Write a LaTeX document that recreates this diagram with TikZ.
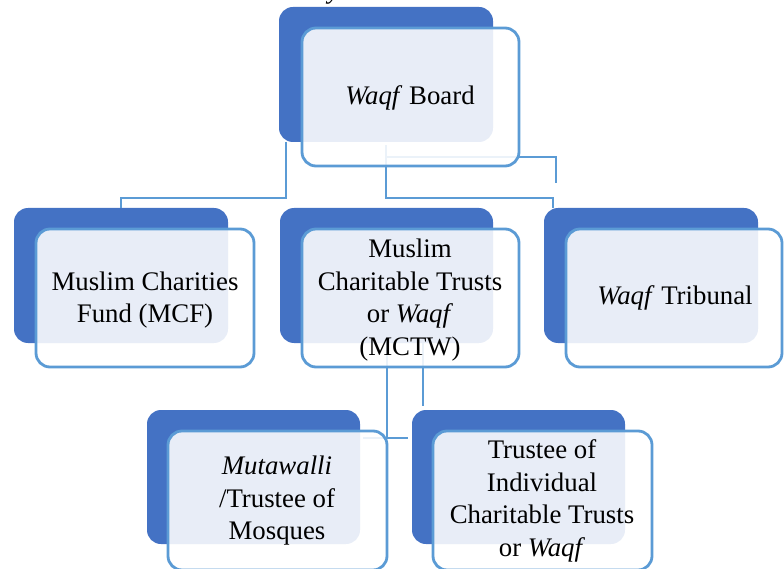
\documentclass[tikz,border=0pt]{standalone}
\usepackage{fontspec}
\setmainfont{Liberation Serif}
\definecolor{darkblue}{HTML}{4472C4}
\definecolor{lineblue}{HTML}{5B9BD5}
\begin{document}
\begin{tikzpicture}[x=1pt,y=-1pt,
  backbox/.style={fill=darkblue,rounded corners=14pt},
  frontbox/.style={draw=lineblue,line width=2.8pt,fill=white,fill opacity=0.88,rounded corners=14pt},
  conn/.style={draw=lineblue,line width=2.6pt},
  lbl/.style={align=center,inner sep=0pt,text=black,font=\fontsize{26.8}{32.5}\selectfont}]
\useasboundingbox (0,0) rectangle (784,569);
% cut-off text at top
\begin{scope}
\clip (0,0) rectangle (784,569);
\node[lbl,anchor=base] (toptxt) at (334,-1) {\itshape y};
\end{scope}
% back boxes
\fill[backbox] (279,7) rectangle (493,142);
\fill[backbox] (14,208) rectangle (228,343);
\fill[backbox] (280,208) rectangle (493,343);
\fill[backbox] (544,208) rectangle (758,343);
\fill[backbox] (147,410) rectangle (360,544);
\fill[backbox] (412,410) rectangle (625,544);
% connector anchor points
\coordinate (c1a) at (286,142);
\coordinate (c1b) at (286,198);
\coordinate (c1c) at (121,198);
\coordinate (c1d) at (121,208);
\coordinate (c2a) at (386,145);
\coordinate (c2b) at (386,198);
\coordinate (c2c) at (553,198);
\coordinate (c2d) at (553,208);
\coordinate (c3a) at (386,157);
\coordinate (c3b) at (556,157);
\coordinate (c3c) at (556,183);
\coordinate (c4a) at (387,343);
\coordinate (c4b) at (387,438);
\coordinate (c4c) at (363,438);
\coordinate (c4d) at (408,438);
\coordinate (c5a) at (423,343);
\coordinate (c5b) at (423,406);
\draw[conn] (c1a) -- (c1b) -- (c1c) -- (c1d);
\draw[conn] (c2a) -- (c2b) -- (c2c) -- (c2d);
\draw[conn] (c3a) -- (c3b) -- (c3c);
\draw[conn] (c4a) -- (c4b);
\draw[conn] (c4c) -- (c4d);
\draw[conn] (c5a) -- (c5b);
% front boxes
\draw[frontbox] (302,28) rectangle (519,166);
\draw[frontbox] (36,229) rectangle (254,367);
\draw[frontbox] (302,229) rectangle (519,367);
\draw[frontbox] (566,229) rectangle (782,367);
\draw[frontbox] (168,431) rectangle (387,570);
\draw[frontbox] (433,431) rectangle (652,570);
% labels
\node[lbl] (board) at (410,98) {\textit{Waqf} Board};
\node[lbl] (mcf) at (145,300) {Muslim Charities\\Fund (MCF)};
\node[lbl] (mctw) at (410,300) {Muslim\\Charitable Trusts\\or \textit{Waqf}\\(MCTW)};
\node[lbl] (trib) at (675,298) {\textit{Waqf} Tribunal};
\node[lbl] (mut) at (277,501) {\textit{Mutawalli}\\/Trustee of\\Mosques};
\node[lbl] (trustee) at (542,501) {Trustee of\\Individual\\Charitable Trusts\\or \textit{Waqf}};
\end{tikzpicture}
\end{document}
